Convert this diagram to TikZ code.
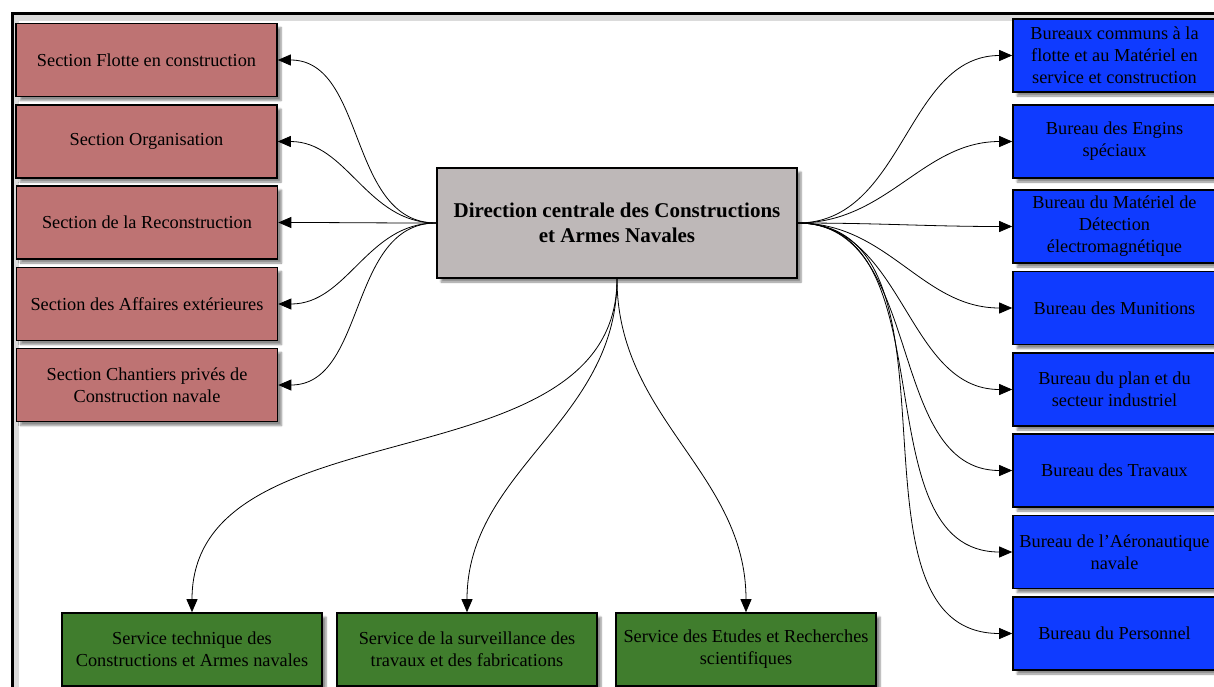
\documentclass[tikz,border=0pt]{standalone}
\usepackage{fontspec}
\setmainfont{Liberation Serif}
\usetikzlibrary{arrows.meta,shadows.blur}
\definecolor{redfill}{HTML}{BE7373}
\definecolor{grayfill}{HTML}{BEB8B8}
\definecolor{bluefill}{HTML}{0F3BFF}
\definecolor{greenfill}{HTML}{407D2D}
\begin{document}
\begin{tikzpicture}[x=1pt,y=-1pt,
  box/.style={draw=black, line width=1.6pt, align=center, inner sep=1pt,
    font=\fontsize{18.3}{22}\selectfont,
    blur shadow={shadow xshift=4pt, shadow yshift=-4pt, shadow blur steps=6, shadow opacity=45}},
  redbox/.style={box, fill=redfill, minimum width=261pt, minimum height=73pt},
  bluebox/.style={box, fill=bluefill, minimum width=203pt, minimum height=73pt},
  greenbox/.style={box, fill=greenfill, minimum width=260pt, minimum height=73pt},
  centerbox/.style={box, fill=grayfill, minimum width=360pt, minimum height=110pt,
    font=\fontsize{21}{25}\selectfont\bfseries},
  conn/.style={-{Triangle[length=13pt,width=11pt]}, line width=0.8pt}]
\useasboundingbox (0,0) rectangle (1214,686);
% frame
\draw[line width=6pt, black!14] (16,700) -- (16,18) -- (1230,18);
\draw[line width=3pt, black] (12,700) -- (12,13.5) -- (1230,13.5);

% central
\node[centerbox] (c) at (617,223) {Direction centrale des Constructions\\et Armes Navales};

% left
\node[redbox] (r1) at (146.5,60) {Section Flotte en construction};
\node[redbox] (r2) at (146.5,141.5) {Section Organisation};
\node[redbox] (r3) at (147,222.5) {Section de la Reconstruction};
\node[redbox] (r4) at (147,304) {Section des Affaires extérieures};
\node[redbox] (r5) at (147,385) {Section Chantiers privés de\\Construction navale};

% right
\node[bluebox] (b1) at (1114.5,55.5) {Bureaux communs à la\\flotte et au Matériel en\\service et construction};
\node[bluebox] (b2) at (1114.5,141.5) {Bureau des Engins\\spéciaux};
\node[bluebox] (b3) at (1114.5,226.5) {Bureau du Matériel de\\Détection\\électromagnétique};
\node[bluebox] (b4) at (1114.5,308) {Bureau des Munitions};
\node[bluebox] (b5) at (1114.5,389.5) {Bureau du plan et du\\secteur industriel};
\node[bluebox] (b6) at (1114.5,470.5) {Bureau des Travaux};
\node[bluebox] (b7) at (1114.5,552) {Bureau de l'Aéronautique\\navale};
\node[bluebox] (b8) at (1114.5,633.5) {Bureau du Personnel};

% bottom
\node[greenbox] (g1) at (192,649.5) {Service technique des\\Constructions et Armes navales};
\node[greenbox] (g2) at (467,649.5) {Service de la surveillance des\\travaux et des fabrications};
\node[greenbox] (g3) at (746,649.5) {Service des Etudes et Recherches\\scientifiques};

% connectors
\foreach \n in {r1,r2,r3,r4,r5}
  \draw[conn] (c.west) to[out=180,in=0] (\n.east);
\foreach \n in {b1,b2,b3,b4,b5,b6,b7,b8}
  \draw[conn] (c.east) to[out=0,in=180] (\n.west);
\foreach \n in {g1,g2,g3}
  \draw[conn] (c.south) to[out=-90,in=90] (\n.north);
\end{tikzpicture}
\end{document}
